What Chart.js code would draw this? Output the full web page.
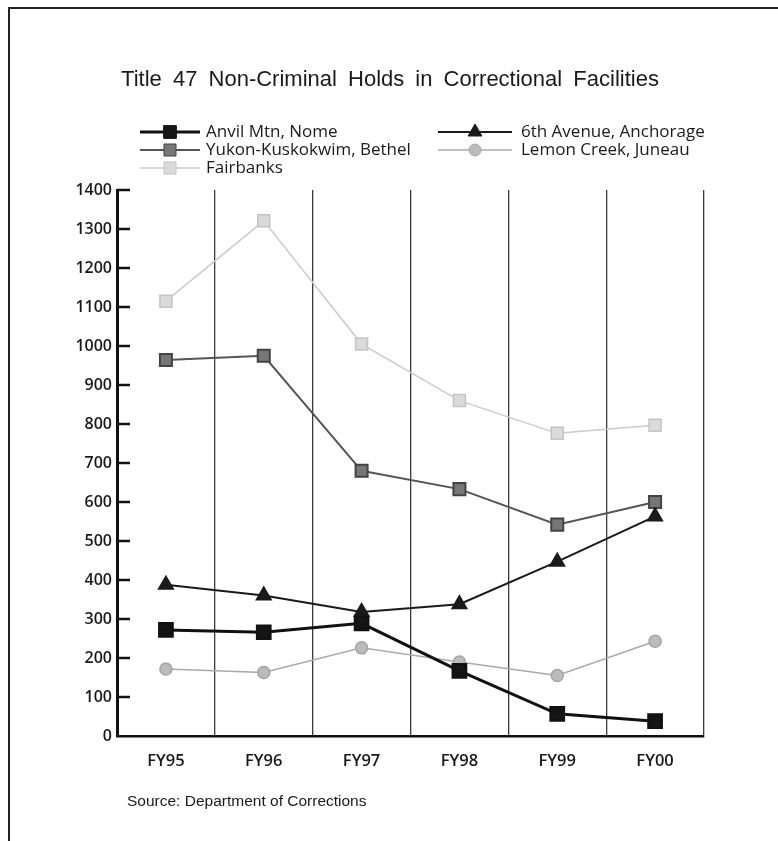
<!DOCTYPE html>
<html>
<head>
<meta charset="utf-8">
<script src="https://cdn.jsdelivr.net/npm/chart.js@4.4.0/dist/chart.umd.min.js"></script>
<style>
    body { margin: 0; background: #fff; }
    #wrap { width: 778px; height: 841px; position: relative; }
</style>
</head>
<body>
<div id="wrap"><canvas id="holdsChart"></canvas></div>
<script>
// values
let categories = ["FY95", "FY96", "FY97", "FY98", "FY99", "FY00"];
let anvilNome = [272, 266, 289, 167, 57, 38];
let sixthAvenue = [388, 360, 318, 338, 447, 563];
let yukonBethel = [964, 975, 680, 633, 542, 600];
let lemonCreek = [172, 163, 226, 190, 155, 243];
let fairbanks = [1115, 1321, 1005, 860, 776, 797];

let seriesNames = ["Anvil Mtn, Nome", "6th Avenue, Anchorage", "Yukon-Kuskokwim, Bethel", "Lemon Creek, Juneau", "Fairbanks"];
let chartTitle = "Title 47 Non-Criminal Holds in Correctional Facilities";
let sourceNote = "Source: Department of Corrections";

let labelFont = "'Open Sans', sans-serif";

// title, legend, source line and outer frame
const decorPlugin = {
    id: "decor",
    afterDraw: function (chart) {
        let ctx = chart.ctx;
        ctx.save();

        // frame (top and left edges of the scan)
        ctx.strokeStyle = "#222";
        ctx.lineWidth = 2;
        ctx.beginPath();
        ctx.moveTo(9, 841);
        ctx.lineTo(9, 8);
        ctx.lineTo(778, 8);
        ctx.stroke();

        // title
        ctx.fillStyle = "#1a1a1a";
        ctx.font = "22px 'Liberation Sans', Arial, sans-serif";
        ctx.wordSpacing = "5px";
        ctx.textAlign = "center";
        ctx.textBaseline = "middle";
        ctx.fillText(chartTitle, 390, 80);
        ctx.wordSpacing = "0px";

        // legend, two columns
        let lineStart = [140, 438];
        let lineEnd = [200, 512];
        let textX = [206, 521];
        let rowY = [132, 150, 168];
        ctx.textAlign = "left";
        ctx.font = "17px " + labelFont;
        chart.data.datasets.forEach(function (ds, i) {
            let col = i % 2;
            let row = Math.floor(i / 2);
            let y = rowY[row];
            ctx.strokeStyle = ds.borderColor;
            ctx.lineWidth = ds.borderWidth;
            ctx.beginPath();
            ctx.moveTo(lineStart[col], y);
            ctx.lineTo(lineEnd[col], y);
            ctx.stroke();
            ctx.fillStyle = ds.pointBackgroundColor;
            ctx.strokeStyle = ds.pointBorderColor;
            ctx.lineWidth = 1;
            Chart.helpers.drawPoint(ctx, {
                pointStyle: ds.pointStyle,
                radius: ds.pointRadius,
                rotation: 0,
                borderWidth: 1
            }, (lineStart[col] + lineEnd[col]) / 2, y);
            ctx.fillStyle = "#1a1a1a";
            ctx.fillText(ds.label, textX[col], y);
        });

        // source line
        ctx.font = "15.5px 'Liberation Sans', Arial, sans-serif";
        ctx.fillStyle = "#1a1a1a";
        ctx.fillText(sourceNote, 127, 802);

        ctx.restore();
    }
};

// short tick marks pointing into the plot from the y axis
const innerTicksPlugin = {
    id: "innerTicks",
    afterDatasetsDraw: function (chart) {
        let ctx = chart.ctx;
        let yScale = chart.scales.y;
        let left = chart.chartArea.left;
        ctx.save();
        ctx.strokeStyle = "#111";
        ctx.lineWidth = 2.5;
        yScale.ticks.forEach(function (t) {
            if (t.value === 0) return;
            let py = yScale.getPixelForValue(t.value);
            ctx.beginPath();
            ctx.moveTo(left, py);
            ctx.lineTo(left + 13, py);
            ctx.stroke();
        });
        ctx.restore();
    }
};

new Chart("holdsChart", {
    type: "line",
    data: {
        labels: categories,
        datasets: [{
            label: seriesNames[0],
            data: anvilNome,
            borderColor: "#111",
            borderWidth: 3,
            pointStyle: "rect",
            pointRadius: 9,
            pointBackgroundColor: "#151515",
            pointBorderColor: "#111"
        }, {
            label: seriesNames[1],
            data: sixthAvenue,
            borderColor: "#1a1a1a",
            borderWidth: 2,
            pointStyle: "triangle",
            pointRadius: 8,
            pointBackgroundColor: "#1a1a1a",
            pointBorderColor: "#1a1a1a"
        }, {
            label: seriesNames[2],
            data: yukonBethel,
            borderColor: "#555",
            borderWidth: 2,
            pointStyle: "rect",
            pointRadius: 8.5,
            pointBackgroundColor: "#777",
            pointBorderColor: "#444"
        }, {
            label: seriesNames[3],
            data: lemonCreek,
            borderColor: "#aaa",
            borderWidth: 1.5,
            pointStyle: "circle",
            pointRadius: 6,
            pointBackgroundColor: "#bbb",
            pointBorderColor: "#a5a5a5"
        }, {
            label: seriesNames[4],
            data: fairbanks,
            borderColor: "#cbcbcb",
            borderWidth: 1.5,
            pointStyle: "rect",
            pointRadius: 8.5,
            pointBackgroundColor: "#dadada",
            pointBorderColor: "#c4c4c4"
        }]
    },
    options: {
        responsive: true,
        maintainAspectRatio: false,
        animation: false,
        layout: {
            padding: { top: 190, right: 74, bottom: 55, left: 0 }
        },
        plugins: {
            legend: { display: false },
            title: { display: false },
            tooltip: { enabled: false }
        },
        scales: {
            x: {
                offset: true,
                afterFit: function (scale) { scale.height = 50; },
                grid: {
                    offset: true,
                    color: "#3a3a3a",
                    lineWidth: 1.3,
                    drawTicks: false
                },
                border: { display: true, color: "#111", width: 2.5 },
                ticks: {
                    color: "#1a1a1a",
                    padding: 15,
                    font: { family: labelFont, size: 16.5, weight: "600" }
                }
            },
            y: {
                min: 0,
                max: 1400,
                afterFit: function (scale) { scale.width = 117; },
                grid: { drawOnChartArea: false, drawTicks: false },
                border: { display: true, color: "#111", width: 3 },
                ticks: {
                    stepSize: 100,
                    color: "#1a1a1a",
                    padding: 5,
                    font: { family: labelFont, size: 16, weight: "600" },
                    callback: function (value) { return String(value); }
                }
            }
        }
    },
    plugins: [decorPlugin, innerTicksPlugin]
});
</script>
</body>
</html>
